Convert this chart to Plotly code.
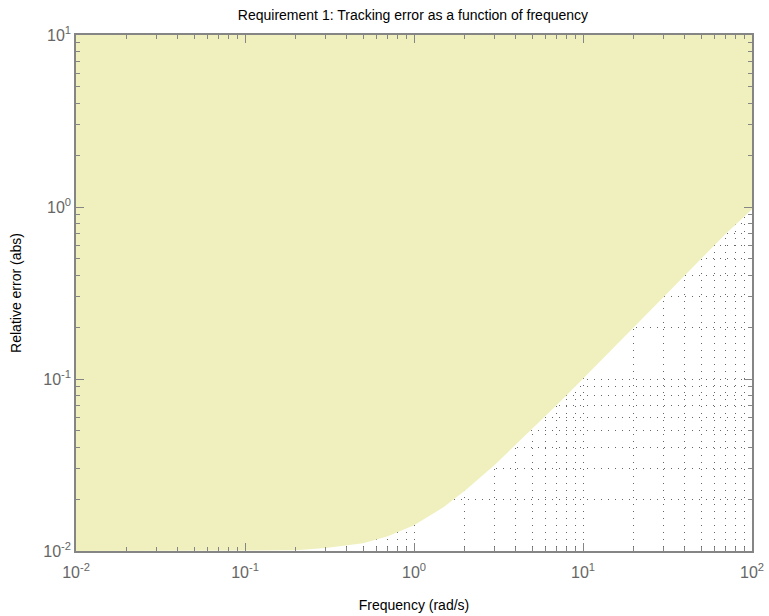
import plotly.graph_objects as go

# Data (frequency in rad/s, relative error bound)
freq = [0.01, 0.02, 0.05, 0.1, 0.2, 0.3, 0.5, 0.7, 1, 1.5, 2, 3, 5, 7, 10, 15, 20, 30, 50, 70, 100]
err = [0.01, 0.01, 0.01, 0.01, 0.0101, 0.0104, 0.0111, 0.0122, 0.0141, 0.018, 0.0224,
       0.0316, 0.051, 0.0707, 0.1005, 0.15, 0.2, 0.3, 0.5, 0.7, 0.97]
top_val = [10] * len(freq)

x_tickvals = [0.01, 0.1, 1, 10, 100]
x_ticktext = ["10<sup>-2</sup>", "10<sup>-1</sup>", "10<sup>0</sup>", "10<sup>1</sup>", "10<sup>2</sup>"]
y_tickvals = [0.01, 0.1, 1, 10]
y_ticktext = ["10<sup>-2</sup>", "10<sup>-1</sup>", "10<sup>0</sup>", "10<sup>1</sup>"]
minor_digits = [2, 3, 4, 5, 6, 7, 8, 9]
x_minor = [d * 10.0 ** e for e in (-2, -1, 0, 1) for d in minor_digits]
y_minor = [d * 10.0 ** e for e in (-2, -1, 0) for d in minor_digits]

fill_color = "rgb(240,240,190)"
font_family = "Liberation Sans, Arial, sans-serif"
frame_color = "#858585"
grid_color = "#666666"
grid_dash = "1px,6px"

fig = go.Figure()
fig.add_trace(go.Scatter(x=freq, y=top_val, mode="lines", line=dict(width=0, color=fill_color),
                         showlegend=False, hoverinfo="skip"))
fig.add_trace(go.Scatter(x=freq, y=err, mode="lines", line=dict(width=0, color=fill_color),
                         fill="tonexty", fillcolor=fill_color, showlegend=False))

def axis_common(minor_vals):
    return dict(
        type="log", automargin=False,
        showline=True, linecolor=frame_color, linewidth=1.5, mirror="ticks",
        ticks="inside", ticklen=8, tickcolor=frame_color, tickwidth=1,
        showgrid=True, gridcolor=grid_color, griddash=grid_dash, gridwidth=1,
        zeroline=False,
        tickfont=dict(family=font_family, size=16, color="#666666"),
        minor=dict(tickmode="array", tickvals=minor_vals, ticks="inside", ticklen=4,
                   tickcolor=frame_color, tickwidth=1, showgrid=True,
                   gridcolor=grid_color, griddash=grid_dash, gridwidth=1),
    )

fig.update_xaxes(**axis_common(x_minor), range=[-2, 2], tickmode="array",
                 tickvals=x_tickvals, ticktext=x_ticktext, ticklabelstandoff=6,
                 title=dict(text="Frequency (rad/s)", font=dict(family=font_family, size=14, color="#000000"),
                            standoff=20))
fig.update_yaxes(**axis_common(y_minor), range=[-2, 1], tickmode="array",
                 tickvals=y_tickvals, ticktext=y_ticktext,
                 title=dict(text="Relative error (abs)", font=dict(family=font_family, size=14, color="#000000"),
                            standoff=18))

fig.update_layout(
    width=769, height=616,
    margin=dict(l=76, r=17, t=35, b=65),
    paper_bgcolor="white", plot_bgcolor="white",
    title=dict(text="Requirement 1: Tracking error as a function of frequency",
               font=dict(family=font_family, size=14, color="#000000"),
               x=0.537, xanchor="center", y=0.975, yanchor="middle"),
    showlegend=False,
)

fig.write_html("out.html", config={"displayModeBar": False},
               post_script="document.body.style.margin='0';document.body.style.overflow='hidden';")
